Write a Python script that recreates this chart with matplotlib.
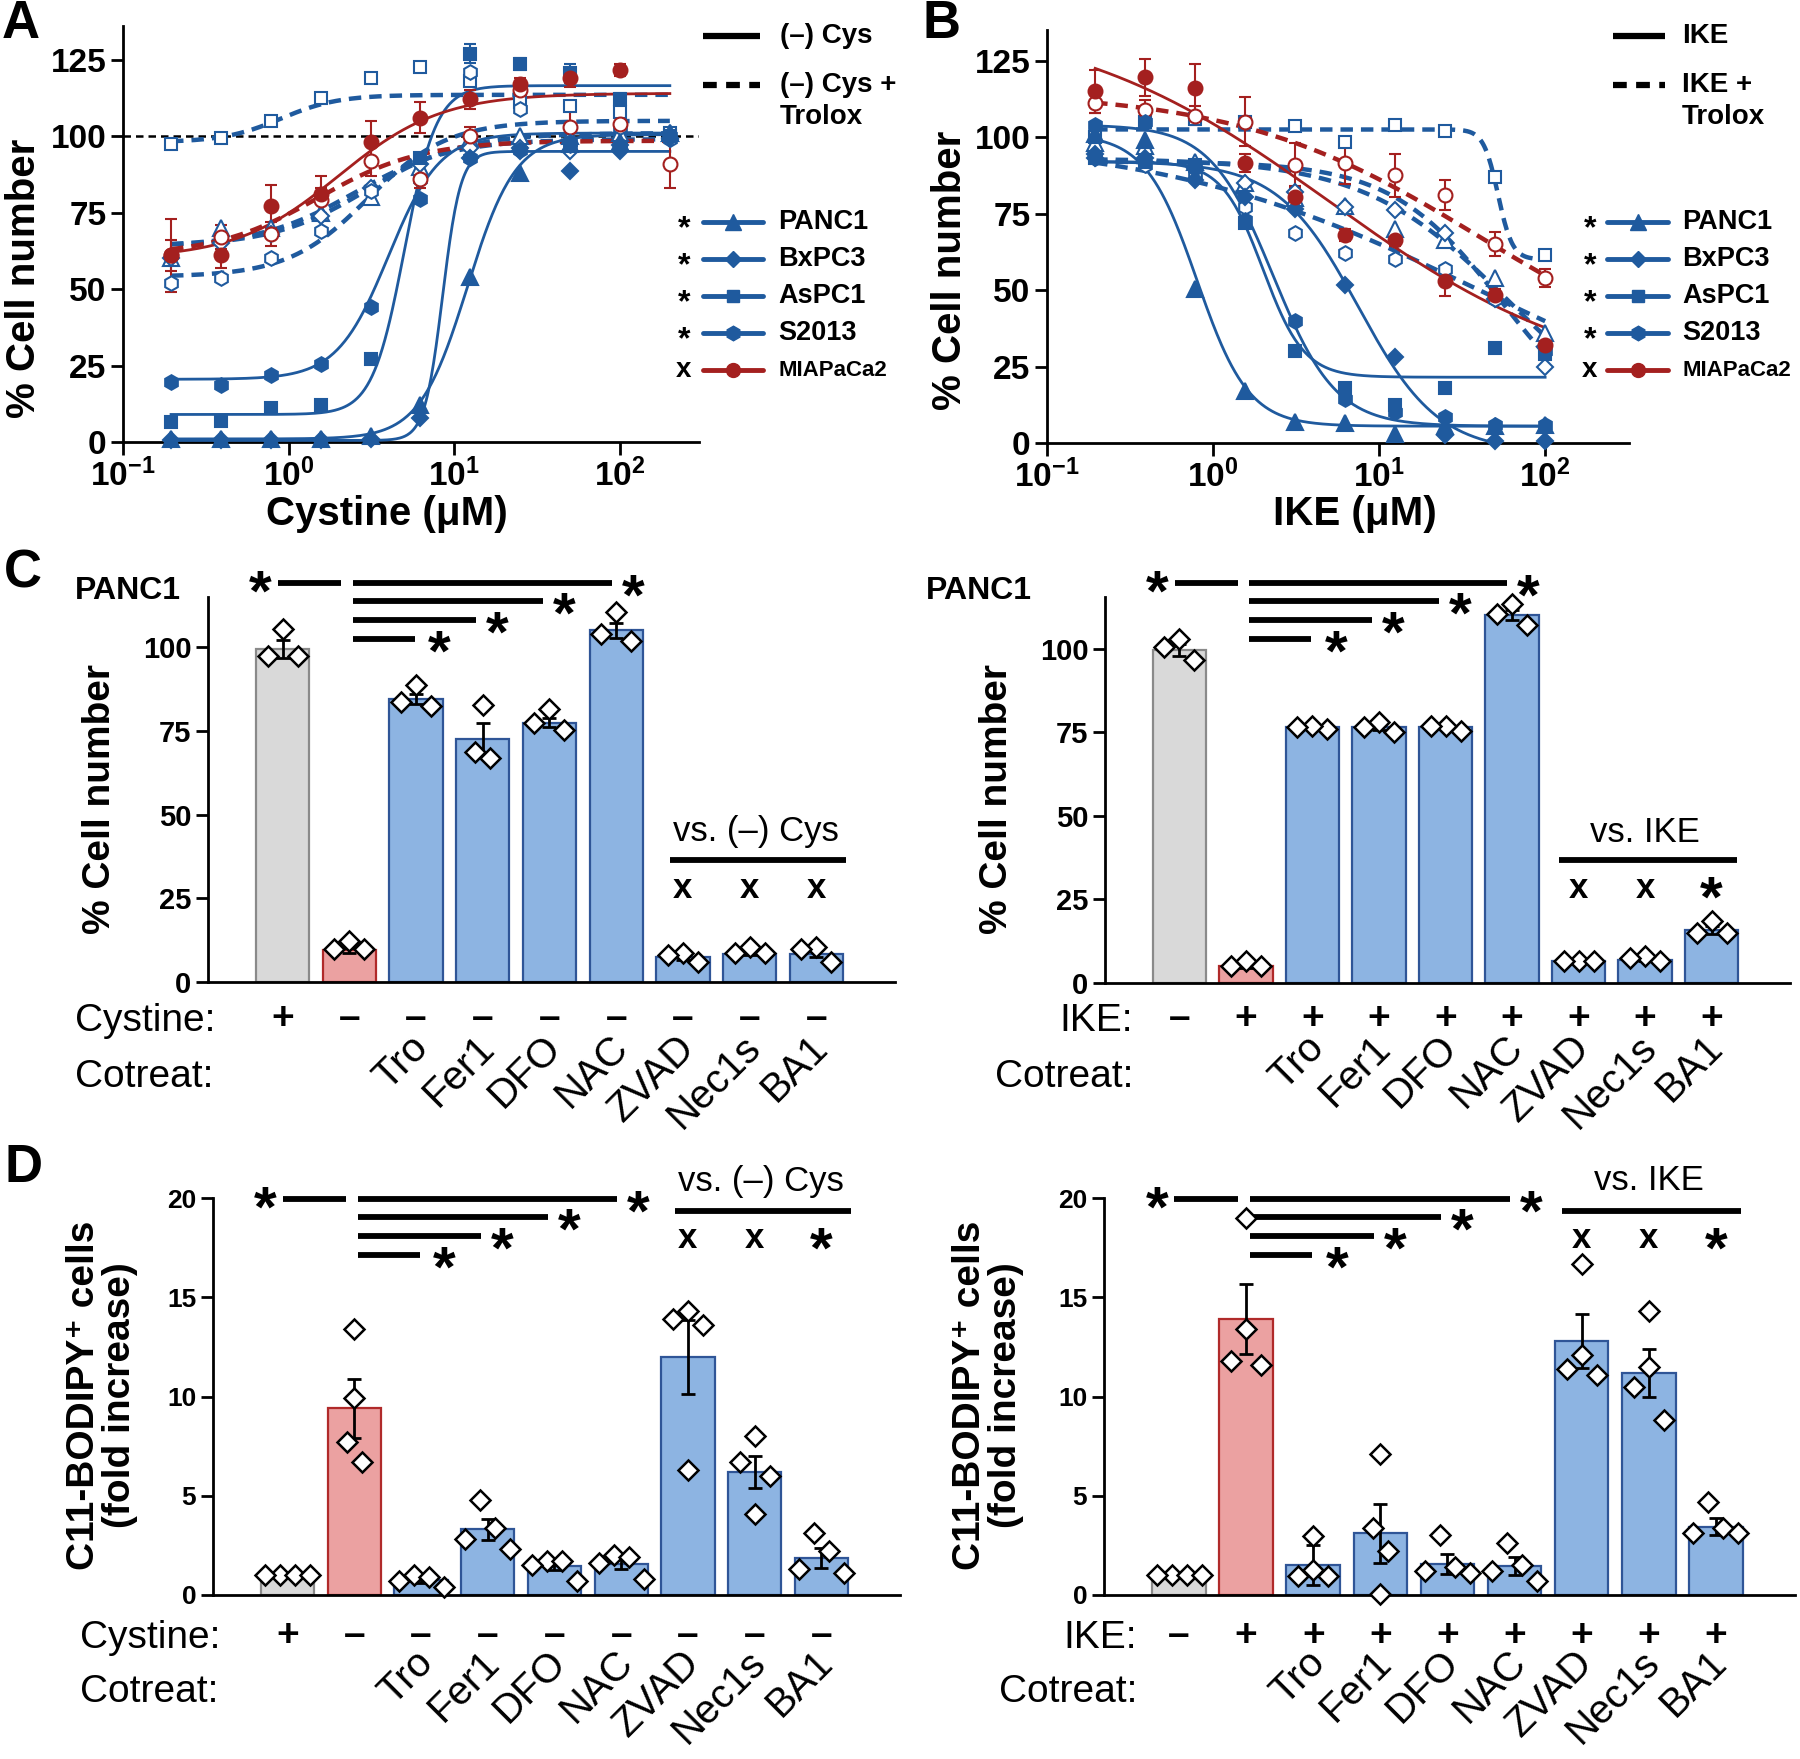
import numpy as np
import matplotlib
matplotlib.use("Agg")
import matplotlib.pyplot as plt
from matplotlib.lines import Line2D
from matplotlib.ticker import NullLocator
from matplotlib.transforms import blended_transform_factory

plt.rcParams['font.family'] = ['Liberation Sans', 'DejaVu Sans']
plt.rcParams['mathtext.fontset'] = 'custom'
plt.rcParams['mathtext.rm'] = 'Liberation Sans'
plt.rcParams['mathtext.bf'] = 'Liberation Sans:bold'

W, H = 1800, 1759
nan = np.nan

# ---------------- panel A : cystine titration ----------------
cys_conc = [0.195, 0.39, 0.78, 1.56, 3.125, 6.25, 12.5, 25, 50, 100, 200]
a_panc1 = [1, 1, 1, 1, 2, 12, 54, 88, 97.5, 98, 101]
a_bxpc3 = [0.5, 0.5, 0.5, 0.5, 1, 8, 93, 95, 88.5, 95, 99.5]
a_aspc1 = [6.5, 7, 11, 12, 27, 93, 127, 123.5, 120.5, 112, 100]
a_s2013 = [19.5, 18.5, 22, 25.5, 44, 79.5, 93, 95.5, 98, 97, 100]
a_mia = [61, 61, 77, 81, 98, 106, 112, 117, 119, 121.5, nan]
a_panc1_tro = [60, 70, 70, 75, 80, 90, 99, 100, 100, 101, 101]
a_bxpc3_tro = [60, 65, 68, 74, 83, 91, 96, 96, 95, 97, 99]
a_aspc1_tro = [97.5, 99.5, 105, 112.5, 119, 122.5, 118, 111, 110, 108, 101]
a_s2013_tro = [52, 53.5, 60, 69, 82, 86, 121, 109, 97, 103, 99]
a_mia_tro = [61, 67, 68, 79, 92, 86, 100, 115, 103, 104, 91]
a_aspc1_err = [1, 1, 1, 1, 1, 1, 3, 2, 3, 2, 2]
a_mia_err = [12, 4, 7, 6, 7, 5, 3, 2, 3, 2, nan]
a_mia_tro_err = [5, 4, 4, 4, 5, 3, 3, 3, 6, 6, 8]
# fitted curves: left plateau, right plateau, EC50, hill
a_fit_panc1 = [1, 100.5, 12, 3]
a_fit_bxpc3 = [0.5, 95, 8.5, 8]
a_fit_aspc1 = [9, 116.5, 5, 4.5]
a_fit_s2013 = [20.5, 101, 4, 2.8]
a_fit_mia = [60, 114, 2.0, 1.4]
a_fit_panc1_tro = [64, 101, 3, 1.5]
a_fit_bxpc3_tro = [64, 99, 2.5, 1.5]
a_fit_aspc1_tro = [98, 113.5, 0.9, 2.5]
a_fit_s2013_tro = [54, 105, 3, 1.8]
a_fit_mia_tro = [61, 98.5, 1.5, 1.4]

# ---------------- panel B : IKE titration ----------------
ike_conc = [0.195, 0.39, 0.78, 1.56, 3.125, 6.25, 12.5, 25, 50, 100]
b_panc1 = [101, 99, 50.5, 17, 7, 6.5, 3, 5.5, 5.5, 6]
b_bxpc3 = [94.5, 93, 86, 80.5, 76.5, 51.5, 28, 2.5, 0.5, 0.5]
b_aspc1 = [93, 92, 91, 72, 30, 18, 12.5, 18, 31, 29]
b_s2013 = [104, 105, 90, 73, 40, 14.5, 10, 8.5, 6, 6]
b_mia = [115, 119.5, 116, 91.5, 80.5, 68, 66.5, 53, 48.5, 32]
b_panc1_tro = [98, 97, 92, 85, 80, 77.5, 70, 66.5, 54, 36]
b_bxpc3_tro = [93, 92, 90, 85, 82, 77, 76, 68.5, 47, 25]
b_aspc1_tro = [100, 105, 106, 105, 103.5, 98.5, 104, 102, 87, 61.5]
b_s2013_tro = [93, 91, 88, 77, 68.5, 62, 60, 57, 47, 30]
b_mia_tro = [111, 109, 107, 105, 91, 91.5, 87.5, 81, 65, 54]
b_mia_err = [7, 6, 8, 3, 3, 2, 2, 5, 2, 2]
b_mia_tro_err = [3, 3, 3, 8, 7, 7, 7, 5, 4, 3]
b_fit_panc1 = [101, 5.5, 0.8, 2.8]
b_fit_bxpc3 = [92, -3, 7.5, 1.8]
b_fit_aspc1 = [92, 21.5, 2.0, 3.5]
b_fit_s2013 = [104, 5.5, 2.3, 2.3]
b_fit_mia = [140, 18, 5, 0.55]
b_fit_panc1_tro = [93, 0, 60, 1]
b_fit_bxpc3_tro = [92, 0, 55, 1.3]
b_fit_aspc1_tro = [102.5, 60, 52, 10]
b_fit_s2013_tro = [100, 0, 40, 0.45]
b_fit_mia_tro = [115, 20, 40, 0.6]

cell_lines = ["PANC1", "BxPC3", "AsPC1", "S2013", "MIAPaCa2"]
cell_sig = ["*", "*", "*", "*", "x"]

# ---------------- panels C / D ----------------
cotreat = ["", "", "Tro", "Fer1", "DFO", "NAC", "ZVAD", "Nec1s", "BA1"]
cys_signs = ["+", "–", "–", "–", "–", "–", "–", "–", "–"]
ike_signs = ["–", "+", "+", "+", "+", "+", "+", "+", "+"]

c_cys_mean = [99.5, 9.5, 84.5, 72.5, 77.5, 105, 7.5, 8.5, 8.5]
c_cys_sem = [2.7, 0.8, 1.5, 5, 1.4, 2.3, 0.8, 0.5, 1]
c_cys_pts = [[97.5, 105.5, 97.5], [9.8, 12.3, 9.8], [82.5, 88.6, 83.5],
             [66.8, 82.7, 68.8], [81.5, 75.4, 77.4], [102, 110.5, 104],
             [6, 8.6, 8.2], [8.6, 10.6, 8.6], [5.9, 10.6, 9.8]]
c_ike_mean = [99.5, 5, 76.5, 76.5, 76.5, 110, 6.5, 7, 16]
c_ike_sem = [1.8, 0.5, 0.4, 0.8, 0.5, 1.5, 0.2, 0.4, 1.2]
c_ike_pts = [[103, 96.5, 100.5], [5, 6.5, 5], [76, 77, 76.5],
             [75, 78, 76.5], [75.5, 77, 77], [113.5, 107, 110.5],
             [6.5, 6.5, 6.5], [6.5, 8, 7.5], [15, 18.5, 15]]

d_cys_mean = [1.0, 9.4, 0.75, 3.3, 1.45, 1.55, 12.0, 6.2, 1.85]
d_cys_sem = [0.05, 1.5, 0.15, 0.55, 0.2, 0.25, 1.85, 0.8, 0.5]
d_cys_pts = [[1, 1, 1, 1], [13.4, 9.9, 7.7, 6.7], [0.4, 1.0, 0.7, 0.9],
             [2.3, 3.4, 4.8, 2.8], [0.7, 1.7, 1.7, 1.5], [0.8, 2.0, 1.9, 1.6],
             [14.3, 13.6, 13.9, 6.3], [8.0, 6.7, 6.0, 4.1], [1.1, 2.2, 3.1, 1.3]]
d_ike_mean = [1.0, 13.9, 1.5, 3.1, 1.55, 1.45, 12.8, 11.2, 3.45]
d_ike_sem = [0.05, 1.75, 1.0, 1.5, 0.5, 0.45, 1.35, 1.2, 0.45]
d_ike_pts = [[1, 1, 1, 1], [11.6, 19.0, 13.4, 11.8], [0.94, 2.99, 1.24, 0.94],
             [7.1, 3.4, 2.2, 0.05], [1.1, 3.0, 1.4, 1.2], [0.7, 2.6, 1.5, 1.2],
             [16.7, 12.1, 11.1, 11.4], [14.3, 11.5, 10.5, 8.8], [4.7, 3.1, 3.4, 3.1]]

BLUE = '#1f5a9e'
RED = '#a4201f'
MARKERS = {"PANC1": ("^", 11), "BxPC3": ("D", 8), "AsPC1": ("s", 9),
           "S2013": ("h", 10.5), "MIAPaCa2": ("o", 10)}
LCOL = {"PANC1": BLUE, "BxPC3": BLUE, "AsPC1": BLUE, "S2013": BLUE, "MIAPaCa2": RED}
BAR_FACE = ['#d9d9d9', '#eba1a1'] + ['#8db4e2'] * 7
BAR_EDGE = ['#8a8a8a', '#b02a2a'] + ['#2f5597'] * 7
STAR = 42

fig = plt.figure(figsize=(W / 100, H / 100), dpi=100)


def add_axes(left, top, right, bottom):
    return fig.add_axes([left / W, 1 - bottom / H, (right - left) / W, (bottom - top) / H])


def ftxt(x, y, s, **kw):
    fig.text(x / W, 1 - y / H, s, **kw)


def fline(x0, x1, y, **kw):
    fig.add_artist(Line2D([x0 / W, x1 / W], [1 - y / H, 1 - y / H], transform=fig.transFigure, **kw))


def curve(x, left, right, c, h):
    return right + (left - right) / (1 + (x / c) ** h)


def style(ax, size):
    for s in ['top', 'right']:
        ax.spines[s].set_visible(False)
    for s in ['left', 'bottom']:
        ax.spines[s].set_linewidth(2)
    ax.tick_params(direction='out', length=9, width=2, labelsize=size, pad=3)
    for lab in ax.get_xticklabels() + ax.get_yticklabels():
        lab.set_fontweight('bold')


def dose_panel(ax, conc, solid, dashed, xmax, ymax):
    xs = np.geomspace(conc[0], conc[-1], 400)
    for dash, group in ((True, dashed), (False, solid)):
        for name, vals, err, fit in group:
            col = LCOL[name]
            mk, ms = MARKERS[name]
            if dash:
                ax.plot(xs, curve(xs, *fit), color=col, lw=3.2, ls=(0, (2.8, 1.8)), zorder=2)
            else:
                ax.plot(xs, curve(xs, *fit), color=col, lw=2, zorder=3)
            ax.errorbar(conc, vals, yerr=err, fmt=mk, ms=ms, mfc='white' if dash else col,
                        mec=col, mew=1.5, ecolor=col, elinewidth=1.5, capsize=4,
                        capthick=1.5, zorder=4, clip_on=False)
    ax.set_xscale('log')
    ax.set_xlim(0.1, xmax)
    ax.set_ylim(0, ymax)
    ax.set_xticks([0.1, 1, 10, 100])
    ax.set_xticklabels([r'$\mathbf{10^{-1}}$', r'$\mathbf{10^{0}}$', r'$\mathbf{10^{1}}$', r'$\mathbf{10^{2}}$'])
    ax.xaxis.set_minor_locator(NullLocator())
    ax.set_yticks([0, 25, 50, 75, 100, 125])
    style(ax, 24)


def swarm(vals, ypx, thresh=34, step=15):
    vals = np.asarray(vals, float)
    order = np.argsort(vals, kind='stable')
    offs = np.zeros(len(vals))
    clusters, cur = [], [order[0]]
    for a, b in zip(order[:-1], order[1:]):
        if (vals[b] - vals[a]) * ypx < thresh:
            cur.append(b)
        else:
            clusters.append(cur)
            cur = [b]
    clusters.append(cur)
    for cl in clusters:
        n = len(cl)
        slots = sorted((np.arange(n) - (n - 1) / 2) * step, key=lambda s: (abs(s), s))
        members = sorted(cl, key=lambda k: -vals[k])
        for k, s in zip(members, slots):
            offs[k] = s
    return offs


XLO, XHI = -1.12, 9.18


def bar_panel(ax, means, sems, pts, ymax, yticks, size):
    x = np.arange(len(means))
    ax.bar(x, means, width=0.8, color=BAR_FACE, edgecolor=BAR_EDGE, linewidth=1.6, zorder=2)
    ax.errorbar(x, means, yerr=sems, fmt='none', ecolor='k', elinewidth=2, capsize=5,
                capthick=2, zorder=3)
    ax.set_xlim(XLO, XHI)
    ax.set_ylim(0, ymax)
    bb = ax.get_position()
    ypx = bb.height * H / ymax
    xpx = bb.width * W / (XHI - XLO)
    for i, p in enumerate(pts):
        off = swarm(p, ypx) / xpx
        ax.plot(i + off, p, ls='none', marker='D', ms=10, mfc='white', mec='k', mew=1.8,
                zorder=4, clip_on=False)
    ax.set_xticks([])
    ax.set_yticks(yticks)
    style(ax, size)


def sig_marks(ax, rows, left_star, short, start, ends, stars):
    tr = blended_transform_factory(ax.transData, fig.transFigure)
    fy = lambda y: 1 - y / H
    kw = dict(color='k', lw=4.2, transform=tr, clip_on=False, solid_capstyle='butt')
    ax.text(left_star, fy(rows[0] + 13), "*", transform=tr, ha='center', va='center',
            fontsize=STAR, fontweight='bold')
    ax.add_line(Line2D(short, [fy(rows[0])] * 2, **kw))
    for y, e, sx in zip(rows, ends, stars):
        ax.add_line(Line2D([start, e], [fy(y)] * 2, **kw))
        ax.text(sx, fy(y + 17), "*", transform=tr, ha='center', va='center',
                fontsize=STAR, fontweight='bold')


def vs_marks(ax, label, text_x, line, y_text, y_line, y_mark, marks):
    tr = blended_transform_factory(ax.transData, fig.transFigure)
    fy = lambda y: 1 - y / H
    ax.text(text_x, fy(y_text), label, transform=tr, ha='center', va='center', fontsize=25)
    ax.add_line(Line2D(line, [fy(y_line)] * 2, color='k', lw=4.2, transform=tr,
                       clip_on=False, solid_capstyle='butt'))
    for i, m in zip((6, 7, 8), marks):
        if m == "*":
            ax.text(i, fy(y_mark + 14), m, transform=tr, ha='center', va='center',
                    fontsize=STAR, fontweight='bold')
        else:
            ax.text(i, fy(y_mark), m, transform=tr, ha='center', va='center',
                    fontsize=25, fontweight='bold')


def row_labels(ax, signs, y_sign, y_rot):
    tr = blended_transform_factory(ax.transData, fig.transFigure)
    for i, s in enumerate(signs):
        ax.text(i, 1 - y_sign / H, s, transform=tr, ha='center', va='center',
                fontsize=28, fontweight='bold')
    for i, c in enumerate(cotreat):
        if c:
            ax.text(i - 0.12, 1 - y_rot / H, c, transform=tr, rotation=45, ha='right',
                    va='top', rotation_mode='anchor', fontsize=29)


# ---- panel A
axA = add_axes(123, 26, 699, 442)
dose_panel(axA, cys_conc,
           [("PANC1", a_panc1, None, a_fit_panc1), ("BxPC3", a_bxpc3, None, a_fit_bxpc3),
            ("AsPC1", a_aspc1, a_aspc1_err, a_fit_aspc1), ("S2013", a_s2013, None, a_fit_s2013),
            ("MIAPaCa2", a_mia, a_mia_err, a_fit_mia)],
           [("PANC1", a_panc1_tro, None, a_fit_panc1_tro), ("BxPC3", a_bxpc3_tro, None, a_fit_bxpc3_tro),
            ("AsPC1", a_aspc1_tro, None, a_fit_aspc1_tro), ("S2013", a_s2013_tro, None, a_fit_s2013_tro),
            ("MIAPaCa2", a_mia_tro, a_mia_tro_err, a_fit_mia_tro)],
           300, 136)
axA.axhline(100, color='k', lw=1.8, ls=(0, (3, 2)), zorder=1)

# ---- panel B
axB = add_axes(1047, 30, 1629, 443)
dose_panel(axB, ike_conc,
           [("PANC1", b_panc1, None, b_fit_panc1), ("BxPC3", b_bxpc3, None, b_fit_bxpc3),
            ("AsPC1", b_aspc1, None, b_fit_aspc1), ("S2013", b_s2013, None, b_fit_s2013),
            ("MIAPaCa2", b_mia, b_mia_err, b_fit_mia)],
           [("PANC1", b_panc1_tro, None, b_fit_panc1_tro), ("BxPC3", b_bxpc3_tro, None, b_fit_bxpc3_tro),
            ("AsPC1", b_aspc1_tro, None, b_fit_aspc1_tro), ("S2013", b_s2013_tro, None, b_fit_s2013_tro),
            ("MIAPaCa2", b_mia_tro, b_mia_tro_err, b_fit_mia_tro)],
           320, 135)

# legends for A and B
for (lx0, lx1, tx, sx, top1, top2a, top2b) in ((703, 760, 780, 684, "(–) Cys", "(–) Cys +", "Trolox"),
                                               (1613, 1665, 1682, 1590, "IKE", "IKE +", "Trolox")):
    fline(lx0, lx1, 36, color='k', lw=4.5, solid_capstyle='butt')
    ftxt(tx, 36, top1, fontsize=20, fontweight='bold', va='center')
    fline(lx0, lx1, 85, color='k', lw=4.5, ls=(0, (2.2, 1.5)), dash_capstyle='butt')
    ftxt(tx, 85, top2a, fontsize=20, fontweight='bold', va='center')
    ftxt(tx, 117, top2b, fontsize=20, fontweight='bold', va='center')
    lx0s = lx0 if sx == 684 else lx0 - 6
    for k, (name, sig) in enumerate(zip(cell_lines, cell_sig)):
        y = 222 + 37 * k
        col = LCOL[name]
        mk, ms = MARKERS[name]
        fline(lx0s, lx1 + 3, y, color=col, lw=3.5, solid_capstyle='round')
        fig.add_artist(Line2D([(lx0s + lx1 + 3) / 2 / W], [1 - y / H], marker=mk, ms=ms,
                              color=col, transform=fig.transFigure))
        if sig == "*":
            ftxt(sx, y + 7, "*", fontsize=23, fontweight='bold', ha='center', va='center')
        else:
            ftxt(sx, y, "x", fontsize=20, fontweight='bold', ha='center', va='center')
        fs = 16 if name == "MIAPaCa2" else 19.5
        ftxt(tx - 2 if sx == 684 else tx, y, name, fontsize=fs, fontweight='bold', va='center')

# ---- panel C
axC1 = add_axes(208, 597, 895, 982)
bar_panel(axC1, c_cys_mean, c_cys_sem, c_cys_pts, 115, [0, 25, 50, 75, 100], 21)
axC2 = add_axes(1105, 597, 1790, 983)
bar_panel(axC2, c_ike_mean, c_ike_sem, c_ike_pts, 115.5, [0, 25, 50, 75, 100], 21)

# ---- panel D
axD1 = add_axes(213, 1198, 900, 1595)
bar_panel(axD1, d_cys_mean, d_cys_sem, d_cys_pts, 20, [0, 5, 10, 15, 20], 19)
axD2 = add_axes(1104, 1198, 1795, 1595)
bar_panel(axD2, d_ike_mean, d_ike_sem, d_ike_pts, 20, [0, 5, 10, 15, 20], 19)

ends = [4.93, 3.9, 2.9, 1.98]
stars = [5.25, 4.22, 3.22, 2.35]
for ax in (axC1, axC2):
    sig_marks(ax, [583, 601, 620, 639], -0.33, [-0.07, 0.88], 1.05, ends, stars)
for ax in (axD1, axD2):
    sig_marks(ax, [1199, 1217, 1236, 1255], -0.33, [-0.07, 0.88], 1.05, ends, stars)

vs_marks(axC1, "vs. (–) Cys", 7.1, [5.8, 8.45], 832, 860, 888, ["x", "x", "x"])
vs_marks(axC2, "vs. IKE", 7.0, [5.7, 8.38], 832, 860, 888, ["x", "x", "*"])
vs_marks(axD1, "vs. (–) Cys", 7.1, [5.8, 8.45], 1181, 1211, 1239, ["x", "x", "*"])
vs_marks(axD2, "vs. IKE", 7.0, [5.7, 8.38], 1181, 1211, 1239, ["x", "x", "*"])

row_labels(axC1, cys_signs, 1019, 1028)
row_labels(axC2, ike_signs, 1019, 1028)
row_labels(axD1, cys_signs, 1636, 1643)
row_labels(axD2, ike_signs, 1636, 1643)

ftxt(75, 1021, "Cystine:", fontsize=28, va='center')
ftxt(75, 1077, "Cotreat:", fontsize=28, va='center')
ftxt(1133, 1021, "IKE:", fontsize=28, va='center', ha='right')
ftxt(1133, 1077, "Cotreat:", fontsize=28, va='center', ha='right')
ftxt(80, 1638, "Cystine:", fontsize=28, va='center')
ftxt(80, 1692, "Cotreat:", fontsize=28, va='center')
ftxt(1137, 1638, "IKE:", fontsize=28, va='center', ha='right')
ftxt(1137, 1692, "Cotreat:", fontsize=28, va='center', ha='right')

ftxt(75, 591, "PANC1", fontsize=23, fontweight='bold', va='center')
ftxt(926, 591, "PANC1", fontsize=23, fontweight='bold', va='center')

# axis labels
bold = dict(fontweight='bold', ha='center', va='center')
ftxt(24, 278, "% Cell number", fontsize=29, rotation=90, **bold)
ftxt(950, 270, "% Cell number", fontsize=29, rotation=90, **bold)
ftxt(100, 799, "% Cell number", fontsize=28, rotation=90, **bold)
ftxt(997, 799, "% Cell number", fontsize=28, rotation=90, **bold)
ftxt(102, 1395, "C11-BODIPY⁺ cells\n(fold increase)", fontsize=28, rotation=90,
     linespacing=1.0, **bold)
ftxt(988, 1395, "C11-BODIPY⁺ cells\n(fold increase)", fontsize=28, rotation=90,
     linespacing=1.0, **bold)
ftxt(387, 514, "Cystine (μM)", fontsize=29, **bold)
ftxt(1355, 514, "IKE (μM)", fontsize=29, **bold)

# panel letters
for x, y, s in ((2, 24, "A"), (922, 24, "B"), (4, 573, "C"), (4, 1168, "D")):
    ftxt(x, y, s, fontsize=38, fontweight='bold', va='center')

fig.savefig("out.png", dpi=100)
